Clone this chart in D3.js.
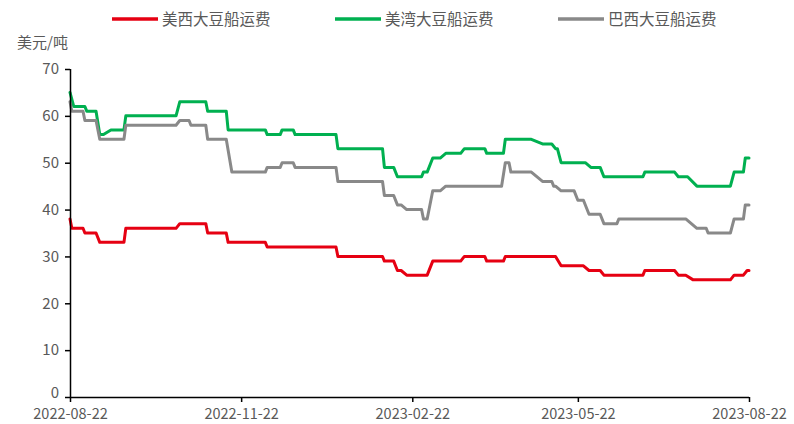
<!DOCTYPE html>
<html>

<head>
    <meta charset="UTF-8">
    <style>
        body { margin: 0; background: #fff; }
        svg { display: block; }
        text { font-family: "Noto Sans CJK SC", sans-serif; fill: #595959; }
    </style>
</head>

<body>
    <svg></svg>
    <script src="https://d3js.org/d3.v7.min.js"></script>

    <script>

        let width = 794, height = 424;

        // series names and colours
        let seriesNames = ["美西大豆船运费", "美湾大豆船运费", "巴西大豆船运费"];
        let seriesColors = ["#e60012", "#00b050", "#898989"];

        // x tick labels
        let xTicks = ["2022-08-22", "2022-11-22", "2023-02-22", "2023-05-22", "2023-08-22"];
        let yTicks = [0, 10, 20, 30, 40, 50, 60, 70];

        // 美西 (US west coast) freight, USD/t
        let westUS = [
            ["2022-08-22", 38], ["2022-08-23", 36], ["2022-08-29", 36], ["2022-08-30", 35],
            ["2022-09-05", 35], ["2022-09-07", 33], ["2022-09-20", 33], ["2022-09-21", 36],
            ["2022-10-18", 36], ["2022-10-20", 37], ["2022-11-03", 37], ["2022-11-04", 35],
            ["2022-11-14", 35], ["2022-11-15", 33], ["2022-12-05", 33], ["2022-12-06", 32],
            ["2023-01-12", 32], ["2023-01-13", 30], ["2023-02-06", 30], ["2023-02-07", 29],
            ["2023-02-12", 29], ["2023-02-14", 27], ["2023-02-16", 27], ["2023-02-19", 26],
            ["2023-03-02", 26], ["2023-03-05", 29], ["2023-03-20", 29], ["2023-03-22", 30],
            ["2023-04-02", 30], ["2023-04-03", 29], ["2023-04-12", 29], ["2023-04-13", 30],
            ["2023-05-10", 30], ["2023-05-13", 28], ["2023-05-25", 28], ["2023-05-28", 27],
            ["2023-06-03", 27], ["2023-06-05", 26], ["2023-06-26", 26], ["2023-06-27", 27],
            ["2023-07-13", 27], ["2023-07-15", 26], ["2023-07-19", 26], ["2023-07-23", 25],
            ["2023-08-12", 25], ["2023-08-14", 26], ["2023-08-19", 26], ["2023-08-21", 27],
            ["2023-08-22", 27]
        ];

        // 美湾 (US gulf) freight
        let gulfUS = [
            ["2022-08-22", 65], ["2022-08-24", 62], ["2022-08-30", 62], ["2022-08-31", 61],
            ["2022-09-05", 61], ["2022-09-07", 56], ["2022-09-09", 56], ["2022-09-13", 57],
            ["2022-09-20", 57], ["2022-09-21", 60], ["2022-10-18", 60], ["2022-10-20", 63],
            ["2022-11-03", 63], ["2022-11-04", 61], ["2022-11-14", 61], ["2022-11-15", 57],
            ["2022-12-05", 57], ["2022-12-06", 56], ["2022-12-13", 56], ["2022-12-14", 57],
            ["2022-12-20", 57], ["2022-12-21", 56], ["2023-01-12", 56], ["2023-01-13", 53],
            ["2023-02-06", 53], ["2023-02-07", 49], ["2023-02-12", 49], ["2023-02-14", 47],
            ["2023-02-27", 47], ["2023-02-28", 48], ["2023-03-02", 48], ["2023-03-05", 51],
            ["2023-03-09", 51], ["2023-03-12", 52], ["2023-03-20", 52], ["2023-03-22", 53],
            ["2023-04-02", 53], ["2023-04-03", 52], ["2023-04-12", 52], ["2023-04-13", 55],
            ["2023-04-27", 55], ["2023-05-03", 54], ["2023-05-08", 54], ["2023-05-10", 53],
            ["2023-05-11", 53], ["2023-05-13", 50], ["2023-05-26", 50], ["2023-05-29", 49],
            ["2023-06-03", 49], ["2023-06-05", 47], ["2023-06-26", 47], ["2023-06-27", 48],
            ["2023-07-13", 48], ["2023-07-15", 47], ["2023-07-20", 47], ["2023-07-25", 45],
            ["2023-08-12", 45], ["2023-08-14", 48], ["2023-08-19", 48], ["2023-08-20", 51],
            ["2023-08-22", 51]
        ];

        // 巴西 (Brazil) freight
        let brazil = [
            ["2022-08-22", 63], ["2022-08-23", 61], ["2022-08-29", 61], ["2022-08-30", 59],
            ["2022-09-05", 59], ["2022-09-07", 55], ["2022-09-20", 55], ["2022-09-21", 58],
            ["2022-10-18", 58], ["2022-10-20", 59], ["2022-10-25", 59], ["2022-10-26", 58],
            ["2022-11-03", 58], ["2022-11-04", 55], ["2022-11-14", 55], ["2022-11-17", 48],
            ["2022-12-05", 48], ["2022-12-06", 49], ["2022-12-13", 49], ["2022-12-14", 50],
            ["2022-12-20", 50], ["2022-12-21", 49], ["2023-01-12", 49], ["2023-01-13", 46],
            ["2023-02-06", 46], ["2023-02-07", 43], ["2023-02-12", 43], ["2023-02-14", 41],
            ["2023-02-16", 41], ["2023-02-19", 40], ["2023-02-27", 40], ["2023-02-28", 38],
            ["2023-03-02", 38], ["2023-03-05", 44], ["2023-03-09", 44], ["2023-03-12", 45],
            ["2023-04-11", 45], ["2023-04-13", 50], ["2023-04-15", 50], ["2023-04-16", 48],
            ["2023-04-27", 48], ["2023-05-03", 46], ["2023-05-08", 46], ["2023-05-09", 45],
            ["2023-05-10", 45], ["2023-05-13", 44], ["2023-05-20", 44], ["2023-05-22", 42],
            ["2023-05-25", 42], ["2023-05-28", 39], ["2023-06-03", 39], ["2023-06-05", 37],
            ["2023-06-12", 37], ["2023-06-13", 38], ["2023-07-19", 38], ["2023-07-25", 36],
            ["2023-07-30", 36], ["2023-07-31", 35], ["2023-08-12", 35], ["2023-08-14", 38],
            ["2023-08-19", 38], ["2023-08-20", 41], ["2023-08-22", 41]
        ];

        let parse = d3.utcParse("%Y-%m-%d");
        let allSeries = [westUS, gulfUS, brazil].map(s => s.map(d => ({ date: parse(d[0]), value: d[1] })));

        let svg = d3.select("svg")
            .attr("width", width)
            .attr("height", height)
            .attr("viewBox", "0 0 " + width + " " + height);

        let x = d3.scaleUtc()
            .domain([parse(xTicks[0]), parse(xTicks[xTicks.length - 1])])
            .range([70, 749]);

        let y = d3.scaleLinear()
            .domain([0, 70])
            .range([397, 69]);

        // lines
        let line = d3.line()
            .x(d => x(d.date))
            .y(d => y(d.value));

        svg.append("g")
            .attr("id", "lines")
            .selectAll("path")
            .data(allSeries)
            .enter()
            .append("path")
            .attr("d", line)
            .attr("fill", "none")
            .attr("stroke", (d, i) => seriesColors[i])
            .attr("stroke-width", 3)
            .attr("stroke-linejoin", "round")
            .attr("stroke-linecap", "round");

        // axes
        let yAxis = svg.append("g")
            .attr("transform", "translate(70,0)")
            .call(d3.axisLeft(y).tickValues(yTicks).tickSize(5).tickPadding(6));

        let xAxis = svg.append("g")
            .attr("transform", "translate(0,397)")
            .call(d3.axisBottom(x)
                .tickValues(xTicks.map(parse))
                .tickFormat(d3.utcFormat("%Y-%m-%d"))
                .tickSize(5)
                .tickPadding(7));

        svg.selectAll(".domain, .tick line")
            .attr("stroke", "#000")
            .attr("stroke-width", 1.5);
        yAxis.select(".domain").attr("d", "M0.5,69V397");
        xAxis.select(".domain").attr("d", "M70,0.5H749");

        svg.selectAll(".tick text")
            .attr("fill", "#595959")
            .style("font-family", "'Noto Sans CJK SC', sans-serif")
            .style("font-size", "15px");

        // x labels a little smaller so the first date clears the 0 label
        xAxis.selectAll(".tick text").style("font-size", "14.5px");

        // nudge the 0 label up a touch
        yAxis.selectAll(".tick text").filter(d => d === 0).attr("dy", "0.05em");

        // y axis title
        svg.append("text")
            .attr("x", 17)
            .attr("y", 48)
            .style("font-size", "15px")
            .text("美元/吨");

        // legend
        let legendX = [112, 335, 558];
        let legend = svg.append("g")
            .selectAll("g")
            .data(seriesNames)
            .enter()
            .append("g")
            .attr("transform", (d, i) => "translate(" + legendX[i] + ",19)");

        legend.append("line")
            .attr("x1", 0).attr("x2", 46)
            .attr("y1", 0).attr("y2", 0)
            .attr("stroke", (d, i) => seriesColors[i])
            .attr("stroke-width", 3.5);

        legend.append("text")
            .attr("x", 50)
            .attr("y", 6)
            .style("font-size", "15.5px")
            .text(d => d);

    </script>

</body>

</html>
